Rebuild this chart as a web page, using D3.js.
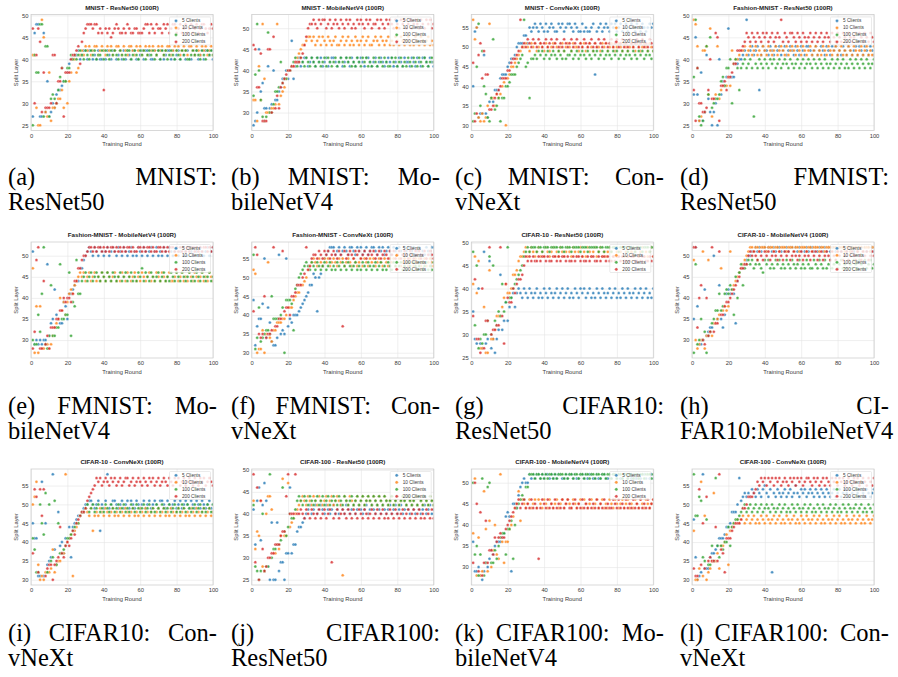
<!DOCTYPE html>
<html><head><meta charset="utf-8">
<script src="https://cdn.jsdelivr.net/npm/d3@7"></script>
<style>body{margin:0;background:#fff} svg{display:block}</style>
</head><body>
<svg id="fig" width="898" height="677"></svg>
<script>
// ---------- labels ----------
const clientLabels = ["5 Clients", "10 Clients", "100 Clients", "200 Clients"];
const seriesColors = ["#1f77b4", "#ff7f0e", "#2ca02c", "#d62728"];
const xTicks = [0, 20, 40, 60, 80, 100];
const titles = [
  "MNIST - ResNet50 (100R)", "MNIST - MobileNetV4 (100R)", "MNIST - ConvNeXt (100R)", "Fashion-MNIST - ResNet50 (100R)",
  "Fashion-MNIST - MobileNetV4 (100R)", "Fashion-MNIST - ConvNeXt (100R)", "CIFAR-10 - ResNet50 (100R)", "CIFAR-10 - MobileNetV4 (100R)",
  "CIFAR-10 - ConvNeXt (100R)", "CIFAR-100 - ResNet50 (100R)", "CIFAR-100 - MobileNetV4 (100R)", "CIFAR-100 - ConvNeXt (100R)"
];
const yTicks = [
  [25,30,35,40,45,50],[30,35,40,45,50],[30,35,40,45,50,55],[25,30,35,40,45,50],
  [30,35,40,45,50],[30,35,40,45,50,55],[25,30,35,40,45,50],[30,35,40,45,50],
  [30,35,40,45,50,55],[25,30,35,40,45,50],[30,35,40,45,50],[30,35,40,45,50,55]
];
const captionLine1 = [
  ["(a)","MNIST:"],["(b)","MNIST:","Mo-"],["(c)","MNIST:","Con-"],["(d)","FMNIST:"],
  ["(e)","FMNIST:","Mo-"],["(f)","FMNIST:","Con-"],["(g)","CIFAR10:"],["(h)","CI-"],
  ["(i)","CIFAR10:","Con-"],["(j)","CIFAR100:"],["(k)","CIFAR100:","Mo-"],["(l)","CIFAR100:","Con-"]
];
const captionLine2 = ["ResNet50","bileNetV4","vNeXt","ResNet50","bileNetV4","vNeXt","ResNet50","FAR10:MobileNetV4","vNeXt","ResNet50","bileNetV4","vNeXt"];

// ---------- data: split layer per training round (rounds 1..100) ----------
// MNIST - ResNet50
const mnist_resnet_c5 = [27,46,48,48,27,27,46,28,35,27, 28,30,29,32,33,33,34,35,35,37, 39,40,40,41,41,42,40,41,42,42, 40,42,42,40,41,40,42,40,40,42, 40,42,41,40,42,42,40,41,42,40, 42,40,42,41,40,42,42,40,40,41, 42,40,42,42,41,40,40,42,41,42, 40,42,40,41,42,42,40,42,40,41, 42,40,42,41,40,42,40,40,42,41, 42,40,41,42,40,42,42,41,42,40];
const mnist_resnet_c10 = [41,41,29,25,25,49,45,28,27,37, 26,29,29,30,31,31,33,29,35,30, 35,37,40,40,37,38,41,42,41,43, 42,43,41,42,43,43,41,42,43,42, 41,43,42,43,41,42,43,43,42,41, 43,42,41,43,43,42,41,43,42,43, 41,42,43,41,43,42,43,42,41,43, 42,43,41,42,43,43,41,42,43,42, 43,41,42,43,42,41,43,43,42,41, 43,42,41,43,42,43,41,42,43,41];
const mnist_resnet_c100 = [25,41,37,37,48,48,27,43,43,27, 31,32,31,30,33,36,38,35,35,38, 38,41,40,41,40,41,42,41,40,42, 41,40,42,41,42,40,41,41,42,40, 42,41,40,42,41,42,41,40,42,41, 40,41,42,42,40,41,42,41,40,42, 41,42,40,41,42,41,42,40,41,42, 40,42,41,42,40,41,42,41,40,42, 41,40,42,41,42,40,40,41,42,41, 42,41,40,42,41,40,42,41,42,41];
const mnist_resnet_c200 = [47,30,41,47,44,28,37,29,29,29, 30,41,41,30,35,35,38,27,37,37, 37,40,41,41,42,43,39,44,46,47, 48,48,48,47,48,48,46,47,46,33, 47,46,47,45,46,47,48,47,46,46, 47,46,48,47,46,46,47,47,46,46, 46,47,48,48,46,48,47,46,48,47, 47,46,48,47,48,46,47,48,48,46, 47,48,46,47,48,46,47,48,46,47, 48,46,47,48,48,47,46,47,48,47];
// MNIST - MobileNetV4
const mnist_mobile_c5 = [27,28,30,45,35,37,31,31,41,31, 32,40,33,33,35,36,38,38,40,38, 40,47,38,41,42,43,41,42,43,43, 41,42,43,42,41,43,42,43,41,42, 43,41,42,43,43,42,41,42,43,41, 42,43,42,41,43,42,41,43,42,43, 42,41,43,43,42,41,42,43,41,42, 43,42,41,42,43,42,43,41,42,41, 43,42,41,43,42,42,41,43,42,41, 43,42,41,43,43,42,41,43,42,41];
const mnist_mobile_c10 = [33,33,28,41,33,51,38,30,30,30, 31,31,32,51,32,34,35,36,38,40, 40,41,41,42,43,44,45,46,46,47, 48,48,47,48,46,47,48,46,48,47, 46,48,47,46,47,48,46,46,47,48, 46,47,48,46,47,46,48,47,46,47, 48,46,47,48,46,46,47,48,47,46, 48,47,46,47,48,46,47,46,48,47, 46,48,47,46,47,48,46,47,46,48, 47,46,48,47,46,47,48,46,47,46];
const mnist_mobile_c100 = [34,39,51,40,33,29,28,29,49,30, 30,32,35,35,36,42,37,38,38,40, 40,41,42,43,41,42,43,42,41,43, 42,41,43,42,41,43,42,41,42,43, 41,43,42,41,42,43,41,42,43,42, 41,43,42,43,41,42,41,43,42,41, 43,42,43,41,42,41,43,42,41,43, 42,41,43,42,41,41,43,42,43,41, 42,43,41,42,41,43,42,41,43,42, 41,43,42,41,43,42,41,42,43,42];
const mnist_mobile_c200 = [46,45,36,36,44,28,28,28,45,45, 30,48,31,34,31,36,37,38,39,40, 40,41,41,42,42,42,43,44,46,48, 50,51,51,52,51,50,52,51,52,52, 50,51,52,50,51,52,51,50,52,51, 50,52,51,52,50,51,50,52,51,52, 51,50,52,51,52,50,51,51,52,50, 52,51,50,52,51,52,51,50,52,51, 50,52,51,52,50,51,52,50,51,52, 51,50,52,51,50,52,51,52,50,51];
// MNIST - ConvNeXt
const mnist_convnext_c5 = [40,54,55,32,33,33,48,33,32,36, 37,36,39,39,39,42,43,43,43,45, 46,47,47,48,50,51,51,51,53,53, 51,55,54,55,56,55,54,56,55,54, 56,54,55,56,55,54,54,56,55,56, 54,55,56,56,55,54,56,55,54,54, 56,54,55,54,54,55,56,43,54,55, 56,54,55,56,55,54,56,55,56,54, 55,56,54,55,56,54,55,56,55,54, 56,55,54,56,55,54,55,56,55,56];
const mnist_convnext_c10 = [57,52,55,32,31,33,31,32,35,56, 37,37,35,38,37,38,40,41,30,42, 43,45,45,46,47,48,49,50,50,51, 50,49,51,50,51,49,50,51,50,49, 51,50,49,50,51,51,50,49,50,51, 49,50,51,50,49,51,50,50,49,51, 50,51,49,50,51,50,49,51,50,50, 49,51,50,51,49,50,51,50,49,50, 51,50,49,51,50,49,50,51,50,49, 51,50,49,50,51,50,49,51,50,49];
const mnist_convnext_c100 = [31,33,45,56,35,49,40,38,32,31, 37,52,34,35,37,31,37,37,40,40, 41,43,43,43,45,46,47,48,57,45, 46,37,47,47,48,47,49,48,49,47, 48,49,47,48,49,48,47,49,48,47, 49,47,48,48,49,47,48,49,47,48, 49,48,47,49,48,47,49,48,49,47, 48,49,47,48,49,48,47,49,48,49, 47,48,49,47,48,49,48,47,49,48, 47,49,48,49,47,48,49,48,47,49];
const mnist_convnext_c200 = [46,31,33,48,51,42,49,43,43,34, 34,35,37,38,39,40,42,42,42,44, 44,46,47,47,48,49,57,50,51,50, 52,51,50,52,51,50,52,51,50,51, 52,50,51,52,50,51,52,50,51,50, 52,51,50,51,52,50,51,52,50,51, 50,52,51,50,51,52,50,51,50,52, 51,50,52,51,50,51,52,50,51,52, 50,51,52,50,51,50,52,51,50,51, 52,50,51,52,50,51,50,52,51,50];
// Fashion-MNIST - ResNet50
const fmnist_resnet_c5 = [32,45,32,26,37,26,28,41,31,28, 25,28,30,25,40,32,35,34,36,47, 36,36,36,39,39,40,40,41,42,49, 41,42,43,41,42,43,33,41,43,42, 42,41,43,42,41,43,42,43,41,42, 43,41,42,43,42,41,43,42,41,43, 42,41,43,43,42,41,42,43,41,42, 43,42,41,43,42,41,43,42,43,41, 42,41,43,42,41,43,42,41,42,43, 41,43,42,41,43,42,41,43,42,41];
const fmnist_resnet_c10 = [49,48,43,26,27,42,42,43,32,47, 27,31,32,43,31,33,34,34,34,36, 34,42,39,40,40,41,42,42,43,41, 42,43,41,42,43,41,42,41,43,42, 41,43,42,41,42,43,41,42,43,42, 41,43,41,42,43,42,41,43,42,41, 43,42,41,42,43,41,42,43,41,42, 41,43,42,41,43,42,41,42,43,41, 42,43,41,42,41,43,42,41,43,42, 41,42,43,41,42,43,41,42,41,43];
const fmnist_resnet_c100 = [36,49,38,27,25,26,28,43,32,45, 29,30,31,31,32,35,36,34,38,38, 40,30,39,40,38,33,38,39,40,38, 39,40,38,27,39,38,40,39,38,40, 39,38,40,39,40,38,39,40,38,39, 40,39,38,40,39,38,39,40,38,39, 40,38,39,40,39,38,40,39,38,40, 39,38,40,39,38,39,40,38,39,40, 38,39,40,38,39,38,40,39,38,40, 39,38,40,39,38,40,39,38,39,40];
const fmnist_resnet_c200 = [33,26,38,30,30,28,28,29,33,40, 31,31,46,45,26,34,34,35,33,36, 36,37,39,39,42,42,42,43,44,46, 45,44,46,45,44,46,45,44,46,45, 46,44,45,46,44,45,46,45,49,44, 46,45,44,46,46,45,44,46,45,44, 46,45,44,45,46,44,45,46,44,45, 46,44,45,46,45,44,46,45,44,46, 45,44,46,45,44,46,45,44,45,46, 44,46,45,44,46,45,44,46,45,44];
// Fashion-MNIST - MobileNetV4
const fmnist_mobile_c5 = [51,29,30,29,30,29,30,30,48,31, 34,35,42,36,35,34,34,39,38,35, 41,41,42,43,44,44,47,47,49,50, 51,52,51,50,52,51,50,52,51,50, 51,52,50,51,52,51,50,52,51,50, 52,51,50,51,52,50,51,50,52,51, 50,52,51,50,51,52,50,51,52,50, 51,50,52,51,50,52,51,50,51,52, 50,51,52,50,51,50,52,51,50,52, 51,50,52,51,50,51,52,50,51,52];
const fmnist_mobile_c10 = [47,27,38,27,38,28,28,29,29,28, 29,31,33,34,35,40,37,39,36,39, 41,42,41,43,44,45,46,45,46,44, 45,46,44,45,46,44,45,44,46,45, 44,46,45,44,45,46,44,45,44,46, 45,44,46,45,44,45,46,44,45,44, 46,45,44,45,46,44,45,44,46,45, 44,46,45,44,45,46,44,44,45,46, 44,45,46,44,45,44,46,45,44,46, 45,44,45,46,44,45,44,46,45,44];
const fmnist_mobile_c100 = [30,29,29,36,32,41,52,29,28,31, 43,31,31,33,33,48,35,35,36,36, 46,31,39,38,49,41,41,44,45,46, 44,45,46,44,45,46,45,44,46,45, 44,46,45,44,46,45,44,45,46,44, 45,46,44,45,46,44,45,44,46,45, 47,44,46,45,44,46,45,44,45,46, 44,45,46,44,45,44,46,45,44,46, 45,44,46,45,44,45,46,44,45,44, 46,45,44,46,45,44,45,46,44,45];
const fmnist_mobile_c200 = [28,32,49,52,28,28,44,29,31,28, 33,33,33,35,35,37,37,40,39,40, 40,39,41,44,44,47,47,49,50,50, 51,52,52,51,52,51,52,52,51,52, 51,52,51,52,52,51,52,51,52,51, 52,51,52,52,51,52,51,51,52,52, 51,52,51,52,52,51,52,51,51,52, 52,51,52,51,52,51,52,52,51,52, 51,52,51,52,51,52,51,52,52,51, 52,51,52,51,52,52,51,52,51,52];
// Fashion-MNIST - ConvNeXt
const fmnist_convnext_c5 = [44,32,37,39,39,43,55,34,42,38, 33,32,32,34,56,35,36,35,55,37, 39,38,40,40,40,41,42,43,44,45, 46,48,48,51,50,41,50,51,53,55, 56,57,58,58,58,56,57,58,56,57, 58,57,56,58,58,57,56,58,57,58, 56,57,58,56,57,58,58,57,56,58, 57,58,56,57,58,57,56,58,57,56, 58,57,56,58,57,58,56,57,58,56, 57,58,56,57,56,58,57,56,58,58];
const fmnist_convnext_c10 = [52,51,30,31,31,36,30,35,54,34, 33,36,36,38,38,38,39,39,40,42, 42,42,44,45,46,46,48,48,49,50, 52,53,54,55,54,53,55,54,53,55, 54,55,53,54,55,54,53,55,54,55, 53,54,55,54,53,55,54,53,54,55, 53,55,54,53,55,54,55,53,54,55, 54,53,55,54,53,55,54,55,53,54, 55,53,54,55,54,53,55,54,53,55, 54,55,53,54,55,53,54,55,54,53];
const fmnist_convnext_c100 = [56,31,34,42,33,34,35,36,36,35, 45,39,39,39,39,40,42,30,44,44, 44,43,36,47,48,50,51,52,53,54, 53,52,54,53,52,54,53,52,53,54, 52,53,54,52,53,52,54,53,52,54, 53,52,54,53,52,53,54,52,53,52, 54,53,52,54,53,52,53,54,52,53, 54,52,53,52,54,53,52,54,53,52, 53,54,52,53,52,54,53,52,54,53, 52,53,54,52,53,54,52,53,52,54];
const fmnist_convnext_c200 = [41,58,56,35,34,35,45,34,35,35, 36,58,37,37,39,39,57,41,42,42, 40,45,45,46,48,48,48,50,51,58, 52,53,55,56,56,55,57,56,55,57, 56,57,55,56,57,56,55,57,56,37, 57,55,56,57,56,55,57,56,57,55, 56,57,55,56,57,56,57,55,56,57, 55,56,57,56,55,57,56,57,55,56, 57,55,56,57,56,55,57,56,55,57, 56,57,55,56,57,55,56,57,56,55];
// CIFAR-10 - ResNet50
const cifar10_resnet_c5 = [35,29,28,40,28,27,48,28,29,46, 27,29,26,29,31,43,31,33,37,33, 36,38,39,36,39,40,39,38,40,39, 38,40,39,38,39,40,38,39,38,40, 39,38,40,39,38,39,40,38,39,40, 38,39,40,38,39,38,40,39,38,40, 39,40,38,39,40,38,39,38,40,39, 38,40,39,38,39,40,38,39,40,38, 39,38,40,39,38,40,39,38,39,40, 38,39,40,38,39,40,38,39,38,40];
const cifar10_resnet_c10 = [41,47,39,46,27,27,36,26,26,44, 29,29,31,34,34,34,36,38,41,39, 39,40,43,43,44,46,47,47,48,49, 47,48,49,48,47,48,49,47,48,47, 49,48,47,48,49,47,48,47,49,48, 47,48,49,48,47,49,48,47,48,49, 47,48,47,49,48,47,48,49,47,48, 49,47,48,47,48,49,48,47,49,48, 47,48,49,47,48,47,49,48,47,48, 49,47,48,49,47,48,47,48,49,47];
const cifar10_resnet_c100 = [48,32,45,27,29,28,30,30,33,47, 30,45,33,32,35,34,41,35,37,49, 38,38,40,41,42,43,44,45,47,48, 49,48,49,49,49,48,49,49,48,49, 49,49,48,49,49,49,49,48,49,49, 48,49,49,49,48,49,49,49,49,48, 49,49,49,48,49,49,49,49,49,48, 49,49,48,49,49,49,48,49,49,49, 48,49,49,49,49,48,49,49,49,48, 49,49,49,48,49,49,49,48,49,49];
const cifar10_resnet_c200 = [34,42,29,29,26,40,27,33,33,49, 30,31,31,32,32,49,34,28,41,38, 37,37,40,39,41,42,42,43,45,47, 46,47,46,47,46,46,47,46,47,47, 46,47,46,46,47,47,46,47,46,47, 47,46,47,46,46,47,46,47,47,46, 47,46,46,47,46,47,47,46,46,47, 46,47,47,46,47,46,46,47,46,47, 47,46,47,46,46,47,46,47,47,46, 46,47,46,47,47,46,46,47,46,47];
// CIFAR-10 - MobileNetV4
const cifar10_mobile_c5 = [35,52,38,29,29,30,42,31,32,33, 33,50,34,35,43,35,33,36,41,42, 41,42,41,34,44,46,47,47,48,49, 50,50,51,51,52,51,52,51,52,52, 51,52,52,51,52,51,52,52,51,52, 51,52,51,52,52,51,52,51,52,51, 52,51,52,51,52,52,51,52,51,52, 52,51,52,51,52,51,52,52,51,51, 52,51,52,52,51,52,51,52,51,52, 51,52,52,51,52,51,52,51,52,51];
const cifar10_mobile_c10 = [49,30,28,29,30,51,28,31,49,32, 31,34,34,35,36,47,37,38,37,38, 51,42,43,44,45,46,47,48,49,50, 51,52,52,51,52,52,51,52,52,52, 51,52,52,52,51,52,52,51,52,52, 52,51,52,52,52,51,52,52,51,52, 52,52,51,52,52,51,52,52,52,51, 52,52,51,52,52,52,51,52,52,51, 52,52,52,51,52,52,51,52,52,52, 51,52,52,51,52,52,52,51,52,52];
const cifar10_mobile_c100 = [27,48,29,30,35,30,32,27,31,32, 34,35,37,37,41,37,38,41,42,41, 43,42,36,45,40,46,48,43,47,48, 49,48,49,47,48,49,48,47,46,49, 48,49,47,48,47,49,48,49,47,48, 47,49,48,47,49,48,47,48,49,47, 48,47,49,48,47,47,49,48,47,49, 48,47,49,47,48,49,47,48,49,47, 48,49,47,48,47,49,48,47,49,48, 47,49,48,47,49,47,48,49,47,48];
const cifar10_mobile_c200 = [52,52,33,40,43,30,29,40,31,32, 52,32,34,34,51,36,36,38,39,39, 40,41,42,43,44,45,47,47,48,48, 50,51,50,51,50,49,51,50,49,51, 50,51,49,50,51,50,49,51,50,49, 51,50,51,49,50,51,50,49,50,51, 49,50,51,50,49,51,50,51,49,50, 51,49,50,51,50,49,51,50,49,51, 50,51,49,50,51,49,50,51,50,49, 51,50,49,51,50,51,49,50,51,50];
// CIFAR-10 - ConvNeXt
const cifar10_convnext_c5 = [45,41,41,31,31,56,31,45,34,35, 36,58,38,34,48,39,40,37,41,40, 44,36,44,45,46,47,47,48,49,50, 50,51,51,50,49,50,51,43,50,49, 51,58,49,50,51,51,50,49,50,51, 49,50,51,49,51,50,49,51,50,49, 50,51,49,50,51,49,50,51,50,49, 51,51,50,49,51,50,49,50,51,49, 50,51,49,50,51,50,49,51,50,49, 51,50,49,51,50,49,50,51,49,50];
const cifar10_convnext_c10 = [50,52,56,34,30,31,30,32,32,32, 33,38,32,34,35,35,37,37,58,40, 41,42,31,43,44,45,47,48,48,49, 48,47,49,43,47,48,47,49,48,47, 49,48,47,48,49,47,48,47,49,48, 47,49,48,47,48,49,47,48,47,49, 48,47,49,48,47,48,49,47,48,49, 47,48,49,47,48,47,49,48,47,48, 49,47,48,49,47,48,47,49,48,47, 49,48,47,48,49,47,48,49,47,48];
const cifar10_convnext_c100 = [41,38,32,32,50,45,42,53,32,50, 35,36,51,34,45,37,37,38,39,41, 41,42,43,44,45,45,47,48,48,49, 50,48,49,50,48,49,50,48,49,48, 50,49,48,50,49,48,49,50,48,49, 50,48,49,48,50,49,48,50,49,48, 49,50,48,49,50,48,49,48,50,49, 48,50,49,48,49,50,48,49,50,48, 49,48,50,49,48,50,49,48,49,50, 48,49,50,48,49,48,50,49,48,50];
const cifar10_convnext_c200 = [37,54,52,32,54,47,54,31,33,34, 34,30,34,35,36,44,37,36,39,40, 39,41,43,42,45,46,47,48,48,49, 51,52,53,54,55,57,56,57,55,56, 57,56,55,57,56,57,55,56,57,55, 56,57,57,55,56,57,55,56,57,56, 55,57,56,55,57,56,57,55,56,57, 55,56,57,56,55,57,56,55,57,56, 57,55,56,57,55,56,57,56,55,57, 56,55,57,56,57,55,56,57,56,55];
// CIFAR-100 - ResNet50
const cifar100_resnet_c5 = [41,33,43,46,34,42,47,43,28,25, 38,25,25,38,27,29,29,25,31,31, 46,31,33,33,36,37,37,38,39,40, 41,42,40,41,42,40,41,42,41,40, 42,41,40,41,42,40,41,40,42,41, 40,42,41,40,41,42,40,41,42,41, 40,41,42,40,41,42,41,40,42,41, 40,42,41,40,41,42,40,41,42,40, 41,42,40,41,42,41,40,42,41,40, 42,41,40,41,42,40,41,42,40,41];
const cifar100_resnet_c10 = [43,32,36,35,43,28,27,40,44,44, 41,31,31,33,32,35,48,35,35,47, 37,38,39,40,41,42,43,44,43,42, 44,43,42,44,43,42,44,43,42,43, 44,42,43,44,42,43,44,43,42,26, 44,43,42,44,43,42,43,44,42,43, 44,42,43,44,43,42,44,43,42,44, 43,42,44,43,42,43,44,42,43,44, 42,43,44,43,42,44,43,42,43,44, 42,44,43,42,44,43,42,44,43,42];
const cifar100_resnet_c100 = [42,28,27,25,27,40,27,28,28,49, 30,32,32,33,33,34,46,36,35,37, 40,39,39,41,43,44,43,42,44,43, 42,44,43,42,43,44,42,43,44,42, 43,44,42,43,44,43,42,44,43,42, 44,43,42,43,44,42,43,44,42,43, 44,42,43,44,43,42,44,43,42,44, 43,42,44,43,42,43,44,42,43,44, 42,43,44,43,42,44,43,42,43,44, 42,44,43,42,44,43,42,44,43,42];
const cifar100_resnet_c200 = [49,29,46,25,43,32,27,28,30,30, 31,31,33,33,33,35,36,36,44,49, 40,40,40,49,40,40,41,40,39,41, 40,39,41,40,39,40,41,39,40,41, 39,40,41,29,39,40,41,39,40,41, 40,39,41,40,39,41,40,39,41,40, 39,41,40,39,40,41,39,40,41,39, 40,41,39,40,39,41,40,39,41,40, 39,40,41,39,40,41,39,40,41,39, 40,41,39,40,39,41,40,39,41,39];
// CIFAR-100 - MobileNetV4
const cifar100_mobile_c5 = [36,29,29,30,28,27,29,31,30,32, 34,33,35,36,36,36,37,38,42,43, 42,29,45,45,44,47,49,50,51,50, 50,52,51,52,51,52,52,51,52,51, 52,52,51,52,51,52,51,52,52,51, 51,52,51,52,52,51,52,51,51,52, 52,51,52,51,52,52,51,51,52,51, 51,52,52,51,51,52,51,52,52,51, 52,51,51,52,52,51,52,51,52,51, 51,52,51,52,52,51,52,51,52,51];
const cifar100_mobile_c10 = [38,51,28,37,28,29,48,39,29,41, 30,34,40,33,32,52,36,31,36,36, 39,40,42,44,45,48,41,46,45,44, 45,46,44,45,46,44,46,45,44,46, 45,44,46,45,44,45,46,44,45,46, 44,45,46,45,44,46,45,44,45,46, 44,46,45,44,45,46,44,45,46,44, 45,46,44,45,44,46,45,44,46,45, 44,45,46,44,45,46,44,45,44,46, 45,44,46,45,44,46,45,44,45,46];
const cifar100_mobile_c100 = [50,33,35,28,33,51,28,31,49,50, 31,31,34,32,35,37,38,38,33,39, 39,41,32,40,44,45,46,47,46,49, 49,52,52,52,51,52,52,51,52,51, 52,51,52,52,51,52,51,52,52,52, 51,52,51,52,52,51,52,52,51,52, 52,51,52,52,51,52,52,51,52,52, 51,52,52,51,52,52,51,52,52,51, 52,52,51,52,52,51,52,52,51,52, 52,51,52,52,51,52,52,52,51,52];
const cifar100_mobile_c200 = [31,50,45,29,43,28,31,41,31,34, 34,33,37,36,37,38,37,37,39,40, 41,42,43,44,45,46,44,45,46,44, 45,44,46,44,45,44,32,44,46,45, 44,46,44,45,44,46,44,45,44,46, 44,45,46,44,44,45,46,44,45,44, 46,44,45,44,46,44,45,44,46,44, 45,44,46,44,45,44,44,46,45,44, 46,44,45,44,46,44,45,44,46,44, 45,44,46,44,45,44,46,44,45,46];
// CIFAR-100 - ConvNeXt
const cifar100_convnext_c5 = [46,36,30,31,32,58,33,33,33,36, 37,37,38,39,41,41,41,42,44,44, 45,48,48,48,50,57,51,52,53,52, 53,52,54,53,52,54,53,52,54,55, 53,52,54,32,53,52,54,53,52,53, 54,52,53,54,52,53,55,53,52,54, 53,54,52,53,54,53,52,54,53,52, 54,53,52,54,53,52,53,54,52,53, 54,52,53,54,53,52,54,53,52,54, 53,52,54,53,52,54,53,52,53,54];
const cifar100_convnext_c10 = [43,30,30,33,56,31,47,30,32,33, 35,53,35,37,33,39,39,40,42,34, 43,44,45,45,46,45,46,47,45,46, 47,45,46,47,45,46,45,47,46,45, 47,46,45,46,47,45,46,47,45,46, 45,47,46,45,46,47,45,46,45,47, 46,45,47,46,45,46,47,45,46,47, 45,46,45,47,46,45,46,47,45,46, 47,45,46,45,47,46,45,46,47,45, 46,47,45,46,45,47,46,45,46,47];
const cifar100_convnext_c100 = [58,47,47,52,51,36,35,46,34,34, 39,35,57,39,36,39,38,40,40,44, 39,44,45,46,46,47,48,49,50,48, 49,50,48,49,50,48,49,50,48,49, 50,49,48,50,49,48,49,50,48,49, 50,48,49,48,50,49,48,50,49,48, 49,50,48,49,50,48,49,48,50,49, 48,50,49,48,49,50,48,49,50,48, 49,48,50,49,48,50,49,48,49,50, 48,49,50,48,49,48,50,49,48,50];
const cifar100_convnext_c200 = [33,31,31,54,34,45,33,52,35,36, 35,35,44,35,58,38,37,32,41,41, 41,43,44,45,45,45,46,49,49,50, 52,52,52,53,54,56,55,57,56,57, 55,57,56,57,55,57,56,57,55,56, 57,56,55,57,56,57,55,57,56,57, 55,56,57,57,56,55,57,56,57,55, 56,57,55,57,56,55,57,56,57,55, 57,56,57,55,56,57,56,55,57,56, 57,55,56,57,56,55,57,56,55,57];

const panelSeries = [
  [mnist_resnet_c5, mnist_resnet_c10, mnist_resnet_c100, mnist_resnet_c200],
  [mnist_mobile_c5, mnist_mobile_c10, mnist_mobile_c100, mnist_mobile_c200],
  [mnist_convnext_c5, mnist_convnext_c10, mnist_convnext_c100, mnist_convnext_c200],
  [fmnist_resnet_c5, fmnist_resnet_c10, fmnist_resnet_c100, fmnist_resnet_c200],
  [fmnist_mobile_c5, fmnist_mobile_c10, fmnist_mobile_c100, fmnist_mobile_c200],
  [fmnist_convnext_c5, fmnist_convnext_c10, fmnist_convnext_c100, fmnist_convnext_c200],
  [cifar10_resnet_c5, cifar10_resnet_c10, cifar10_resnet_c100, cifar10_resnet_c200],
  [cifar10_mobile_c5, cifar10_mobile_c10, cifar10_mobile_c100, cifar10_mobile_c200],
  [cifar10_convnext_c5, cifar10_convnext_c10, cifar10_convnext_c100, cifar10_convnext_c200],
  [cifar100_resnet_c5, cifar100_resnet_c10, cifar100_resnet_c100, cifar100_resnet_c200],
  [cifar100_mobile_c5, cifar100_mobile_c10, cifar100_mobile_c100, cifar100_mobile_c200],
  [cifar100_convnext_c5, cifar100_convnext_c10, cifar100_convnext_c100, cifar100_convnext_c200]
];

// ---------- layout ----------
const W = 898, H = 677;
const colLeft = [31, 251.7, 471.3, 692];
const plotW = 182, plotH = 116, plotTop = 14.5;
const rowOff = [0, 227.5, 454.5];
const capLeft = [8, 231, 455, 680], capW = 209;
const capBase = [185, 414, 641], capLineGap = 25;
const sans = "'Liberation Sans', Arial, sans-serif";
const serif = "'Liberation Serif', 'Times New Roman', serif";

const svg = d3.select("#fig");
svg.append("rect").attr("width", W).attr("height", H).attr("fill", "#fff");
const defs = svg.append("defs");

panelSeries.forEach((series, i) => {
  const col = i % 4, row = Math.floor(i / 4);
  const x0 = colLeft[col], y0 = rowOff[row] + plotTop;
  const g = svg.append("g").attr("transform", `translate(${x0},${y0})`);
  const [mn, mx] = d3.extent(series.flat());
  const pad = (mx - mn) * 0.05;
  const x = d3.scaleLinear().domain([0, 100]).range([0, plotW]);
  const y = d3.scaleLinear().domain([mn - pad, mx + pad]).range([plotH, 0]);

  // grid + tick labels via axes
  const gx = g.append("g").attr("transform", `translate(0,${plotH})`)
    .call(d3.axisBottom(x).tickValues(xTicks).tickSize(-plotH).tickPadding(3.2).tickFormat(d3.format("d")));
  const gy = g.append("g")
    .call(d3.axisLeft(y).tickValues(yTicks[i]).tickSize(-plotW).tickPadding(2.6).tickFormat(d3.format("d")));
  [gx, gy].forEach(a => {
    a.select(".domain").remove();
    a.selectAll(".tick line").attr("stroke", "#e4e4e4").attr("stroke-width", 0.6);
    a.selectAll(".tick text").attr("fill", "#3a3a3a").style("font-family", sans).style("font-size", "5.8px");
  });

  // points
  const cid = "clip" + i;
  defs.append("clipPath").attr("id", cid).append("rect").attr("width", plotW).attr("height", plotH);
  const pg = g.append("g").attr("clip-path", `url(#${cid})`);
  series.forEach((vals, s) => {
    pg.append("g").selectAll("circle").data(vals).join("circle")
      .attr("cx", (d, k) => x(k + 1)).attr("cy", d => y(d)).attr("r", 1.5)
      .attr("fill", seriesColors[s]).attr("fill-opacity", 0.8)
      .attr("stroke", "#fff").attr("stroke-width", 0.35);
  });

  // frame
  g.append("rect").attr("width", plotW).attr("height", plotH).attr("fill", "none")
    .attr("stroke", "#cfcfcf").attr("stroke-width", 0.8);

  // title & labels
  g.append("text").attr("x", plotW / 2).attr("y", -5).attr("text-anchor", "middle")
    .style("font-family", sans).style("font-size", "6.2px").style("font-weight", "bold").attr("fill", "#222")
    .text(titles[i]);
  g.append("text").attr("x", plotW / 2).attr("y", plotH + 15.5).attr("text-anchor", "middle")
    .style("font-family", sans).style("font-size", "5.8px").attr("fill", "#3a3a3a").text("Training Round");
  g.append("text").attr("transform", `translate(-13.5,${plotH / 2}) rotate(-90)`).attr("text-anchor", "middle")
    .style("font-family", sans).style("font-size", "5.8px").attr("fill", "#3a3a3a").text("Split Layer");

  // legend
  const lg = g.append("g").attr("transform", `translate(${plotW - 43.5},2.5)`);
  lg.append("rect").attr("width", 41).attr("height", 28).attr("rx", 1).attr("fill", "#fff").attr("fill-opacity", 0.8)
    .attr("stroke", "#d6d6d6").attr("stroke-width", 0.5);
  clientLabels.forEach((lab, s) => {
    const yy = 3.8 + s * 7;
    lg.append("circle").attr("cx", 6.5).attr("cy", yy).attr("r", 1.6).attr("fill", seriesColors[s]).attr("fill-opacity", 0.8)
      .attr("stroke", "#fff").attr("stroke-width", 0.35);
    lg.append("text").attr("x", 12.5).attr("y", yy + 1.6).style("font-family", sans).style("font-size", "4.7px")
      .attr("fill", "#3a3a3a").text(lab);
  });

  // caption
  const cl = capLeft[col], cb = capBase[row];
  const words = captionLine1[i];
  const tEls = words.map(w => svg.append("text").attr("y", cb).style("font-family", serif).style("font-size", "24.5px")
    .attr("fill", "#000").text(w));
  const widths = tEls.map(t => t.node().getComputedTextLength());
  const gap = (capW - d3.sum(widths)) / (words.length - 1);
  let cx = cl;
  tEls.forEach((t, k) => { t.attr("x", cx); cx += widths[k] + gap; });
  svg.append("text").attr("x", cl).attr("y", cb + capLineGap).style("font-family", serif).style("font-size", "24.5px")
    .attr("fill", "#000").text(captionLine2[i]);
});
</script>
</body></html>
